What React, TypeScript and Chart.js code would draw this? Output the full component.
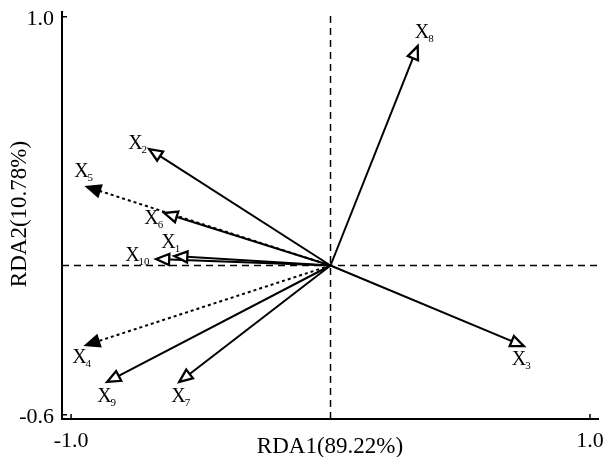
import React, { useEffect, useRef } from "react";
import { Chart, registerables } from "chart.js";
Chart.register(...registerables);

// ---- data ----
const variables = ["1", "2", "3", "4", "5", "6", "7", "8", "9", "10"];
const rda1 = [-0.602, -0.699, 0.745, -0.942, -0.938, -0.641, -0.583, 0.336, -0.861, -0.672];
const rda2 = [0.038, 0.468, -0.324, -0.32, 0.316, 0.211, -0.468, 0.882, -0.468, 0.026];
const dottedVars = ["4", "5"];
const xTicks = [-1.0, 1.0];
const yTicks = [1.0, -0.6];
const xTitle = "RDA1(89.22%)";
const yTitle = "RDA2(10.78%)";

// ---- layout / style (not data) ----
const X_MIN = -1.035;
const X_MAX = 1.031;
const Y_MIN = -0.617;
const Y_MAX = 1.019;
// label offsets from arrow tip in px: [dx, dy] to left edge / baseline of "X"
const labelOffsets: [number, number][] = [
  [-13, -8],
  [-21, 0],
  [-12, 19],
  [-14, 18],
  [-13, -10],
  [-20, 11],
  [-8, 20],
  [-3, -8],
  [-10, 20],
  [-31, 2],
];
const SERIF = "'Liberation Serif', 'Times New Roman', serif";

const arrowPlugin = {
  id: "rdaArrows",
  afterDatasetsDraw(chart: any) {
    const { ctx, scales } = chart;
    const xs = scales.x;
    const ys = scales.y;
    const ox = xs.getPixelForValue(0);
    const oy = ys.getPixelForValue(0);
    ctx.save();
    variables.forEach((v, i) => {
      const tx = xs.getPixelForValue(rda1[i]);
      const ty = ys.getPixelForValue(rda2[i]);
      const ang = Math.atan2(ty - oy, tx - ox);
      const L = 13;
      const W = 5.5;
      const bx = tx - L * Math.cos(ang);
      const by = ty - L * Math.sin(ang);
      const px = -Math.sin(ang);
      const py = Math.cos(ang);
      ctx.beginPath();
      ctx.moveTo(tx, ty);
      ctx.lineTo(bx + W * px, by + W * py);
      ctx.lineTo(bx - W * px, by - W * py);
      ctx.closePath();
      const filled = dottedVars.includes(v);
      ctx.setLineDash([]);
      ctx.lineJoin = "miter";
      ctx.lineWidth = 2.3;
      ctx.strokeStyle = "#000";
      ctx.fillStyle = filled ? "#000" : "#fff";
      ctx.fill();
      ctx.stroke();

      // label
      const [dx, dy] = labelOffsets[i];
      const lx = tx + dx;
      const ly = ty + dy;
      ctx.fillStyle = "#000";
      ctx.textAlign = "left";
      ctx.textBaseline = "alphabetic";
      ctx.font = `20px ${SERIF}`;
      ctx.fillText("X", lx, ly);
      const w = ctx.measureText("X").width;
      ctx.font = `11px ${SERIF}`;
      ctx.fillText(v, lx + w - 1, ly + 4);
    });
    ctx.restore();
  },
  afterDraw(chart: any) {
    const { ctx, scales, chartArea } = chart;
    const xs = scales.x;
    const ys = scales.y;
    ctx.save();
    ctx.strokeStyle = "#000";
    ctx.lineWidth = 1.5;
    ctx.setLineDash([]);
    ctx.fillStyle = "#000";
    ctx.font = `22px ${SERIF}`;
    // x ticks
    xTicks.forEach((t) => {
      const p = xs.getPixelForValue(t);
      ctx.beginPath();
      ctx.moveTo(p, chartArea.bottom);
      ctx.lineTo(p, chartArea.bottom - 5);
      ctx.stroke();
      ctx.textAlign = "center";
      ctx.textBaseline = "alphabetic";
      ctx.fillText(t.toFixed(1), p, chartArea.bottom + 28);
    });
    // y ticks
    yTicks.forEach((t) => {
      const p = ys.getPixelForValue(t);
      ctx.beginPath();
      ctx.moveTo(chartArea.left, p);
      ctx.lineTo(chartArea.left + 5, p);
      ctx.stroke();
      ctx.textAlign = "right";
      ctx.textBaseline = "middle";
      ctx.fillText(t.toFixed(1), chartArea.left - 8, p + 2);
    });
    // axis titles
    ctx.font = `23px ${SERIF}`;
    ctx.textAlign = "center";
    ctx.textBaseline = "alphabetic";
    ctx.fillText(xTitle, (chartArea.left + chartArea.right) / 2, chartArea.bottom + 34);
    ctx.translate(26, 214);
    ctx.rotate(-Math.PI / 2);
    ctx.fillText(yTitle, 0, 0);
    ctx.restore();
  },
};

export default function App() {
  const ref = useRef<HTMLCanvasElement | null>(null);
  useEffect(() => {
    document.body.style.margin = "0";
    if (!ref.current) return;
    const arrowSets = variables.map((v, i) => ({
      label: "X" + v,
      data: [
        { x: 0, y: 0 },
        { x: rda1[i], y: rda2[i] },
      ],
      showLine: true,
      borderColor: "#000",
      borderWidth: 2,
      borderDash: dottedVars.includes(v) ? [3, 3] : [],
      pointRadius: 0,
      pointHoverRadius: 0,
      fill: false,
    }));
    const refSets = [
      {
        label: "v0",
        data: [
          { x: 0, y: Y_MIN },
          { x: 0, y: Y_MAX },
        ],
      },
      {
        label: "h0",
        data: [
          { x: X_MIN, y: 0 },
          { x: X_MAX, y: 0 },
        ],
      },
    ].map((d) => ({
      ...d,
      showLine: true,
      borderColor: "#000",
      borderWidth: 1.5,
      borderDash: [7, 5],
      pointRadius: 0,
      pointHoverRadius: 0,
      fill: false,
    }));
    const chart = new Chart(ref.current, {
      type: "scatter",
      data: { datasets: [...arrowSets, ...refSets] as any },
      options: {
        responsive: false,
        animation: false,
        devicePixelRatio: 1,
        layout: { padding: { left: 62, right: 8, top: 12, bottom: 38 } },
        plugins: { legend: { display: false }, tooltip: { enabled: false } },
        scales: {
          x: {
            type: "linear",
            min: X_MIN,
            max: X_MAX,
            grid: { display: false, drawTicks: false },
            ticks: { display: false },
            border: { display: true, color: "#000", width: 2 },
          },
          y: {
            type: "linear",
            min: Y_MIN,
            max: Y_MAX,
            grid: { display: false, drawTicks: false },
            ticks: { display: false },
            border: { display: true, color: "#000", width: 2 },
          },
        },
      },
      plugins: [arrowPlugin],
    });
    return () => chart.destroy();
  }, []);
  return <canvas ref={ref} width={606} height={457} style={{ display: "block" }} />;
}
